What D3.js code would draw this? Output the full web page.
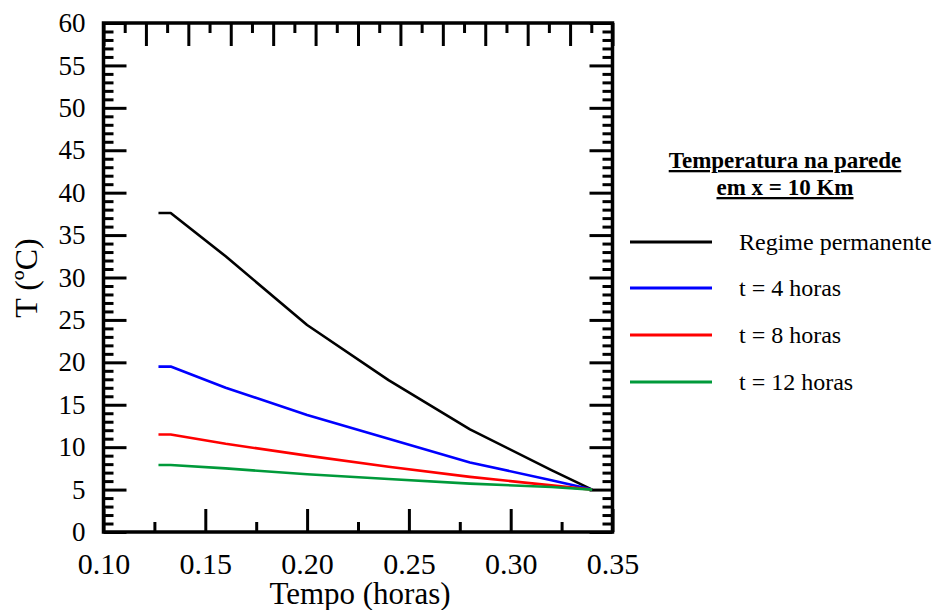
<!DOCTYPE html>
<html>
<head>
<meta charset="utf-8">
<script src="https://cdn.jsdelivr.net/npm/d3@7"></script>
<style>
  html, body { margin: 0; padding: 0; background: #fff; }
  svg { display: block; }
  svg text { font-family: "Liberation Serif", "Times New Roman", serif; }
</style>
</head>
<body>
<svg id="chart" width="942" height="610"></svg>
<script>
// ---- data ----
const tempo = [0.127, 0.133, 0.16, 0.20, 0.24, 0.28, 0.32, 0.34];
const regimePermanente = [37.6, 37.6, 32.5, 24.4, 17.9, 12.1, 7.3, 5.0];
const t4horas  = [19.5, 19.5, 17.0, 13.8, 11.0, 8.2, 6.1, 5.0];
const t8horas  = [11.5, 11.5, 10.4, 9.0, 7.7, 6.5, 5.5, 5.0];
const t12horas = [7.9, 7.9, 7.5, 6.8, 6.25, 5.7, 5.3, 5.0];
const seriesNames = ["Regime permanente", "t = 4 horas", "t = 8 horas", "t = 12 horas"];
const seriesColors = ["#000000", "#0000ff", "#ff0000", "#009a3a"];
const xTickLabels = ["0.10", "0.15", "0.20", "0.25", "0.30", "0.35"];
const yTickLabels = ["0","5","10","15","20","25","30","35","40","45","50","55","60"];
const legendTitle = ["Temperatura na parede", "em x = 10 Km"];
const xTitle = "Tempo (horas)";
const yTitle = "T (ºC)";

const allSeries = [regimePermanente, t4horas, t8horas, t12horas];

// ---- layout ----
const svg = d3.select("#chart");
const L = 103.5, R = 612.5, T = 23, B = 532;

const x = d3.scaleLinear().domain([0.10, 0.35]).range([L, R]);
const y = d3.scaleLinear().domain([0, 60]).range([B, T]);
const xTop = d3.scaleLinear().domain([0, 12]).range([L, R]);

const xMajor = xTickLabels.map(Number);
const xMinor = d3.range(0, 11).map(i => 0.10 + i * 0.025).filter(v => !xMajor.some(m => Math.abs(m - v) < 1e-9));
const yMajor = yTickLabels.map(Number);
const yMinor = d3.range(0, 61).filter(v => v % 5 !== 0);
const topMajor = d3.range(0, 13);
const topMinor = d3.range(0, 12).map(i => i + 0.5);

const MAJ = 23, MIN = 10;
const FONT = '"Liberation Serif", "Times New Roman", serif';

function styleAxis(g) {
  g.attr("font-family", FONT);
  g.select(".domain").remove();
  g.selectAll(".tick line").attr("stroke", "#000").attr("stroke-width", 3);
  g.selectAll(".tick text").attr("fill", "#000");
}
function noText(g) { g.selectAll(".tick text").remove(); }

// bottom axis
svg.append("g").attr("transform", `translate(0,${B})`)
  .call(d3.axisBottom(x).tickValues(xMinor).tickSize(-MIN))
  .call(styleAxis).call(noText);
svg.append("g").attr("transform", `translate(0,${B})`)
  .call(d3.axisBottom(x).tickValues(xMajor).tickSize(-MAJ).tickPadding(21)
    .tickFormat((d, i) => xTickLabels[i]))
  .call(styleAxis)
  .call(g => g.selectAll(".tick text").attr("font-size", 30).attr("dy", "0.71em"));

// top axis
svg.append("g").attr("transform", `translate(0,${T})`)
  .call(d3.axisTop(xTop).tickValues(topMinor).tickSize(-MIN))
  .call(styleAxis).call(noText);
svg.append("g").attr("transform", `translate(0,${T})`)
  .call(d3.axisTop(xTop).tickValues(topMajor).tickSize(-MAJ))
  .call(styleAxis).call(noText);

// left axis
svg.append("g").attr("transform", `translate(${L},0)`)
  .call(d3.axisLeft(y).tickValues(yMinor).tickSize(-MIN))
  .call(styleAxis).call(noText);
svg.append("g").attr("transform", `translate(${L},0)`)
  .call(d3.axisLeft(y).tickValues(yMajor).tickSize(-MAJ).tickPadding(18)
    .tickFormat((d, i) => yTickLabels[i]))
  .call(styleAxis)
  .call(g => g.selectAll(".tick text").attr("font-size", 27));

// right axis
svg.append("g").attr("transform", `translate(${R},0)`)
  .call(d3.axisRight(y).tickValues(yMinor).tickSize(-MIN))
  .call(styleAxis).call(noText);
svg.append("g").attr("transform", `translate(${R},0)`)
  .call(d3.axisRight(y).tickValues(yMajor).tickSize(-MAJ))
  .call(styleAxis).call(noText);

// frame
svg.append("rect").attr("x", L).attr("y", T).attr("width", R - L).attr("height", B - T)
  .attr("fill", "none").attr("stroke", "#000").attr("stroke-width", 3.5);

// lines
const line = d3.line().x(d => x(d[0])).y(d => y(d[1]));
allSeries.forEach((s, i) => {
  svg.append("path")
    .datum(tempo.map((t, j) => [t, s[j]]))
    .attr("d", line)
    .attr("fill", "none")
    .attr("stroke", seriesColors[i])
    .attr("stroke-width", 2.6)
    .attr("stroke-linejoin", "round");
});

// axis titles
svg.append("text").attr("x", 360).attr("y", 604).attr("text-anchor", "middle")
  .attr("font-size", 31).attr("fill", "#000").text(xTitle);
svg.append("text").attr("transform", `translate(37,278) rotate(-90)`).attr("text-anchor", "middle")
  .attr("font-size", 32).attr("fill", "#000").text(yTitle);

// legend title
legendTitle.forEach((tx, i) => {
  svg.append("text").attr("x", 785).attr("y", 168 + i * 27).attr("text-anchor", "middle")
    .attr("font-size", 23).attr("font-weight", "bold").attr("fill", "#000")
    .attr("text-decoration", "underline").text(tx);
});

// legend items
const ly = [242, 288, 335, 382];
seriesNames.forEach((n, i) => {
  svg.append("line").attr("x1", 630).attr("x2", 712).attr("y1", ly[i]).attr("y2", ly[i])
    .attr("stroke", seriesColors[i]).attr("stroke-width", 2.8);
  svg.append("text").attr("x", 739).attr("y", ly[i] + 8).attr("font-size", 24)
    .attr("fill", "#000").text(n);
});
</script>
</body>
</html>
